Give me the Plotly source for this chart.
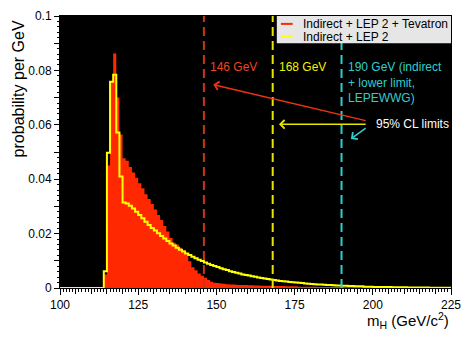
"""Higgs mass probability density: fit with and without Tevatron data, 95% CL limits."""
import plotly.graph_objects as go

# lower edges of the 1 GeV bins, 100 .. 224
mass_low = list(range(100, 225))

# Indirect + LEP 2 + Tevatron (filled red histogram)
prob_tevatron = (
    [0.0] * 14  # 100-113
    + [0.0050, 0.0450, 0.0760, 0.0862, 0.0700, 0.0564, 0.0477, 0.0468, 0.0445, 0.0425]  # 114-123
    + [0.0405, 0.0385, 0.0367, 0.0345, 0.0327, 0.0309, 0.0289, 0.0268, 0.0250, 0.0228]  # 124-133
    + [0.0208, 0.0184, 0.0166, 0.0160, 0.0148, 0.0139, 0.0124, 0.0098, 0.0076, 0.0065]  # 134-143
    + [0.0053, 0.0045, 0.0038, 0.0029, 0.0023, 0.0019, 0.0018, 0.0017, 0.0016, 0.0014]  # 144-153
    + [0.0013, 0.0013, 0.0012, 0.0011, 0.0011, 0.0011, 0.0010, 0.0010, 0.0009]  # 154-162
    + [0.0009, 0.0008, 0.0008, 0.0008, 0.0008, 0.0007, 0.0007, 0.0007, 0.0007, 0.0006, 0.0006]  # 163-173
    + [0.0006, 0.0006, 0.0005, 0.0005, 0.0005, 0.0005, 0.0005, 0.0005, 0.0004]  # 174-182
    + [0.0004] * 8  # 183-190
    + [0.0003] * 18  # 191-208
    + [0.0002] * 16  # 209-224
)

# Indirect + LEP 2 (yellow outline)
prob_lep2 = (
    [0.0] * 14  # 100-113
    + [0.0062, 0.0497, 0.0758, 0.0784, 0.0572, 0.0410, 0.0314, 0.0311, 0.0302, 0.0292]  # 114-123
    + [0.0280, 0.0268, 0.0256, 0.0244, 0.0232, 0.0221, 0.0211, 0.0201, 0.0191, 0.0182]  # 124-133
    + [0.0173, 0.0164, 0.0156, 0.0148, 0.0141, 0.0134, 0.0127, 0.0121, 0.0115, 0.0109]  # 134-143
    + [0.0104, 0.0099, 0.0094, 0.0089, 0.0085, 0.0081, 0.0077, 0.0073, 0.0069, 0.0066]  # 144-153
    + [0.0062, 0.0059, 0.0056, 0.0053, 0.0050, 0.0048, 0.0046, 0.0043, 0.0041, 0.0039]  # 154-163
    + [0.0037, 0.0035, 0.0033, 0.0031, 0.0029, 0.0028, 0.0026, 0.0025, 0.0024, 0.0022]  # 164-173
    + [0.0021, 0.0020, 0.0019, 0.0018, 0.0017, 0.0016, 0.0015, 0.0014, 0.0013, 0.0013]  # 174-183
    + [0.0012, 0.0011, 0.0011, 0.0010, 0.0009, 0.0009, 0.0008, 0.0008, 0.0007, 0.0007]  # 184-193
    + [0.0006, 0.0006, 0.0006, 0.0005, 0.0005, 0.0005]  # 194-199
    + [0.0004] * 6  # 200-205
    + [0.0003] * 5  # 206-210
    + [0.0002] * 7  # 211-217
    + [0.0001] * 7  # 218-224
)
assert len(prob_tevatron) == len(mass_low) == len(prob_lep2)

series_names = ["Indirect + LEP 2 + Tevatron", "Indirect + LEP 2"]
series_colors = ["#ff2800", "#ffff00"]

# 95% CL upper limits (GeV)
limit_values = [146, 168, 190]
limit_labels = ["146 GeV", "168 GeV", "190 GeV (indirect<br>+ lower limit,<br>LEPEWWG)"]
limit_line_colors = ["#cc3318", "#e6e600", "#2ad0d0"]
limit_text_colors = ["#ee4422", "#f2f200", "#33cccc"]

FONT = "Liberation Sans, Arial, Helvetica, sans-serif"

# step outline: close the last bin on its upper edge
x_step = mass_low + [mass_low[-1] + 1]

fig = go.Figure()
fig.add_trace(go.Scatter(
    x=x_step, y=prob_tevatron + [prob_tevatron[-1]],
    mode="lines", line=dict(width=0, shape="hv"),
    fill="tozeroy", fillcolor=series_colors[0],
    showlegend=False, hoverinfo="skip",
))
fig.add_trace(go.Scatter(
    x=x_step, y=prob_lep2 + [prob_lep2[-1]],
    mode="lines", line=dict(width=2, shape="hv", color=series_colors[1]),
    showlegend=False, hoverinfo="skip",
))

for m, c in zip(limit_values, limit_line_colors):
    fig.add_shape(type="line", x0=m, x1=m, y0=0, y1=1, xref="x", yref="paper",
                  line=dict(color=c, width=2, dash="9px,5px"), layer="above")

for m, txt, c in zip(limit_values, limit_labels, limit_text_colors):
    fig.add_annotation(x=m + 1.4, y=0.0846, xref="x", yref="y", text=txt,
                       showarrow=False, xanchor="left", yanchor="top", align="left",
                       font=dict(family=FONT, size=12, color=c))

# "95% CL limits" with arrows pointing at the three limits
fig.add_annotation(x=200.3, y=0.0602, text="95% CL limits", showarrow=False,
                   xanchor="left", yanchor="middle",
                   font=dict(family=FONT, size=12, color="white"))
arrow_heads = [(149.0, 0.0748), (170.0, 0.0602), (193.0, 0.0548)]
arrow_tails = [(198.2, 0.0614), (198.2, 0.0602), (198.2, 0.0592)]
arrow_colors = ["#ee3311", "#e6e600", "#33cccc"]
for (hx, hy), (tx, ty), c in zip(arrow_heads, arrow_tails, arrow_colors):
    fig.add_annotation(x=hx, y=hy, ax=tx, ay=ty, xref="x", yref="y", axref="x", ayref="y",
                       text="", showarrow=True, arrowhead=4, arrowsize=1.1,
                       arrowwidth=1.5, arrowcolor=c)

# legend box drawn by hand (ROOT style, compact)
fig.add_shape(type="rect", xref="paper", yref="paper", x0=0.5545, x1=1.0, y0=0.90, y1=1.0,
              fillcolor="#e6e6e6", line=dict(width=0), layer="above")
for i, (name, c) in enumerate(zip(series_names, series_colors)):
    yy = 0.971 - i * 0.0466
    fig.add_shape(type="line", xref="paper", yref="paper", x0=0.565, x1=0.595, y0=yy, y1=yy,
                  line=dict(color=c, width=2), layer="above")
    fig.add_annotation(x=0.617, y=yy, xref="paper", yref="paper", text=name,
                       showarrow=False, xanchor="left", yanchor="middle",
                       font=dict(family=FONT, size=12, color="black"))

# axis titles
fig.add_annotation(x=-0.107, y=0.99, xref="paper", yref="paper", text="probability per GeV",
                   textangle=-90, showarrow=False, xanchor="center", yanchor="top",
                   font=dict(family=FONT, size=16, color="black"))
fig.add_annotation(x=1.0, y=-0.12, xref="paper", yref="paper",
                   text="m<sub>H</sub> (GeV/c<sup>2</sup>)",
                   showarrow=False, xanchor="right", yanchor="middle",
                   font=dict(family=FONT, size=15, color="black"))

tick_font = dict(family=FONT, size=12, color="black")
fig.update_layout(
    width=470, height=339,
    margin=dict(l=60, r=11, t=9, b=51),
    paper_bgcolor="white", plot_bgcolor="black",
    showlegend=False,
    hovermode=False,
    xaxis=dict(range=[100, 225], tickvals=[100, 125, 150, 175, 200, 225],
               ticks="outside", ticklen=6, tickcolor="black", tickfont=tick_font,
               minor=dict(dtick=1, ticks="outside", ticklen=3, tickcolor="black", showgrid=False),
               showgrid=False, zeroline=False, showline=True, linecolor="black", mirror=True),
    xaxis2=dict(range=[100, 225], overlaying="x", anchor="y", side="bottom",
                tickvals=list(range(100, 226, 5)), ticks="outside", ticklen=4.5,
                tickcolor="black", showticklabels=False, showgrid=False, zeroline=False),
    yaxis=dict(range=[0, 0.1], tickvals=[0, 0.02, 0.04, 0.06, 0.08, 0.1],
               ticks="outside", ticklen=5, tickcolor="black", tickfont=tick_font,
               minor=dict(dtick=0.002, ticks="outside", ticklen=2.5, tickcolor="black", showgrid=False),
               showgrid=False, zeroline=False, showline=True, linecolor="black", mirror=True),
    yaxis2=dict(range=[0, 0.1], overlaying="y", anchor="x", side="left",
                tickvals=[0.01, 0.03, 0.05, 0.07, 0.09], ticks="outside", ticklen=5,
                tickcolor="black", showticklabels=False, showgrid=False, zeroline=False),
)
fig.add_trace(go.Scatter(x=[None], y=[None], xaxis="x2", yaxis="y2",
                         showlegend=False, hoverinfo="skip"))

# drop the browser's default 8px body margin so the 470x339 figure fills the window
fig.write_html("out.html", config={"displayModeBar": False},
               post_script="document.body.style.margin='0';document.body.style.overflow='hidden';")
